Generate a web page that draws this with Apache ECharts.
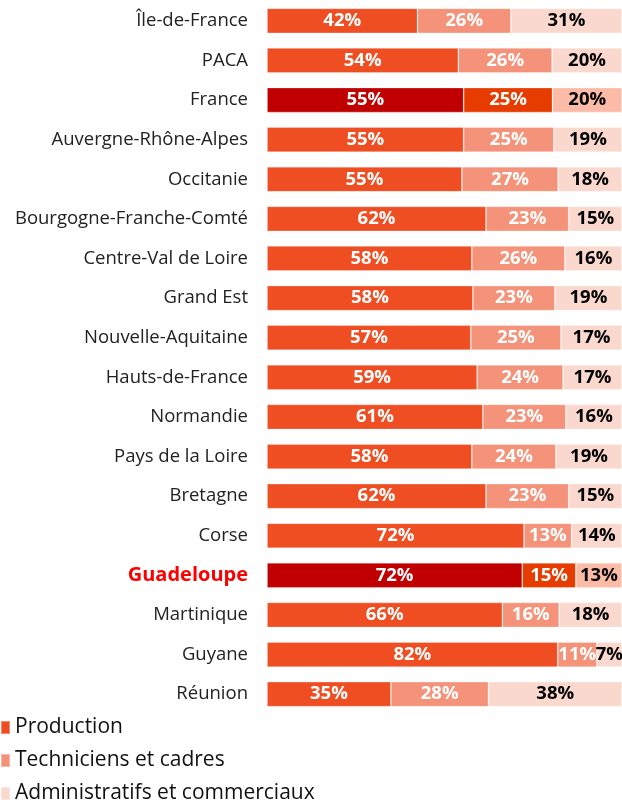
<!DOCTYPE html>
<html><head><meta charset="utf-8">
<script src="https://cdn.jsdelivr.net/npm/echarts@6/dist/echarts.min.js"></script>
<style>html,body{margin:0;padding:0;background:#fff}#c{width:622px;height:802px}</style>
</head><body><div id="c"></div>
<script>
const categories = ["Île-de-France","PACA","France","Auvergne-Rhône-Alpes","Occitanie","Bourgogne-Franche-Comté","Centre-Val de Loire","Grand Est","Nouvelle-Aquitaine","Hauts-de-France","Normandie","Pays de la Loire","Bretagne","Corse","Guadeloupe","Martinique","Guyane","Réunion"];
const production = [42.4,53.9,55.4,55.4,54.9,61.7,57.7,58.0,57.4,59.2,60.8,57.7,61.7,72.4,71.9,66.3,81.9,34.9];
const techniciens = [26.3,26.4,25.0,25.4,27.1,23.3,26.2,23.1,25.4,24.2,23.4,23.7,23.3,13.4,15.1,16.0,11.0,27.5];
const administratifs = [31.3,19.7,19.6,19.2,18.0,15.0,16.1,18.9,17.2,16.6,15.8,18.6,15.0,14.2,13.0,17.7,7.1,37.6];
const highlighted = ["France","Guadeloupe"];
const seriesNames = ["Production","Techniciens et cadres","Administratifs et commerciaux"];

const baseColors = ["#EF4E23","#F4937A","#FBD8CE"];
const hiColors = ["#C00000","#E63C00","#FCBBA6"];
const labelColors = ["#ffffff","#ffffff","#000000"];
const FONT = "Open Sans";

function mk(idx, values){
  return {
    name: seriesNames[idx], type: 'bar', stack: 'total', barWidth: 25,
    itemStyle: {color: baseColors[idx], borderColor: 'rgba(255,255,255,0.35)', borderWidth: 0.8},
    label: {show: true, position: 'inside', color: labelColors[idx], fontFamily: FONT, fontWeight: 'bold', fontSize: 18.5,
      formatter: p => Math.round(p.value) + '%'},
    data: values.map((v,i) => highlighted.includes(categories[i]) ? {value: v, itemStyle: {color: hiColors[idx]}} : v)
  };
}

const chart = echarts.init(document.getElementById('c'));
chart.setOption({
  animation: false,
  textStyle: {fontFamily: FONT},
  grid: {left: 267, right: 0, top: 1, bottom: 88},
  legend: {
    orient: 'vertical', left: 0, top: 717, height: 90, padding: 0, icon: 'rect', itemWidth: 9, itemHeight: 13, itemGap: 12,
    textStyle: {fontFamily: FONT, fontSize: 21, lineHeight: 20, color: '#111'},
    data: seriesNames
  },
  xAxis: {type: 'value', min: 0, max: 100, show: false},
  yAxis: {
    type: 'category', inverse: true, data: categories,
    axisLine: {show: false}, axisTick: {show: false},
    axisLabel: {
      margin: 19, fontFamily: FONT, fontSize: 18.5, color: '#222',
      formatter: v => highlighted.includes(v) && v !== 'France' ? '{hi|' + v + '}' : v,
      rich: {hi: {color: '#FF0000', fontWeight: 'bold', fontSize: 20, fontFamily: FONT}}
    }
  },
  series: [mk(0, production), mk(1, techniciens), mk(2, administratifs)]
});
</script></body></html>
